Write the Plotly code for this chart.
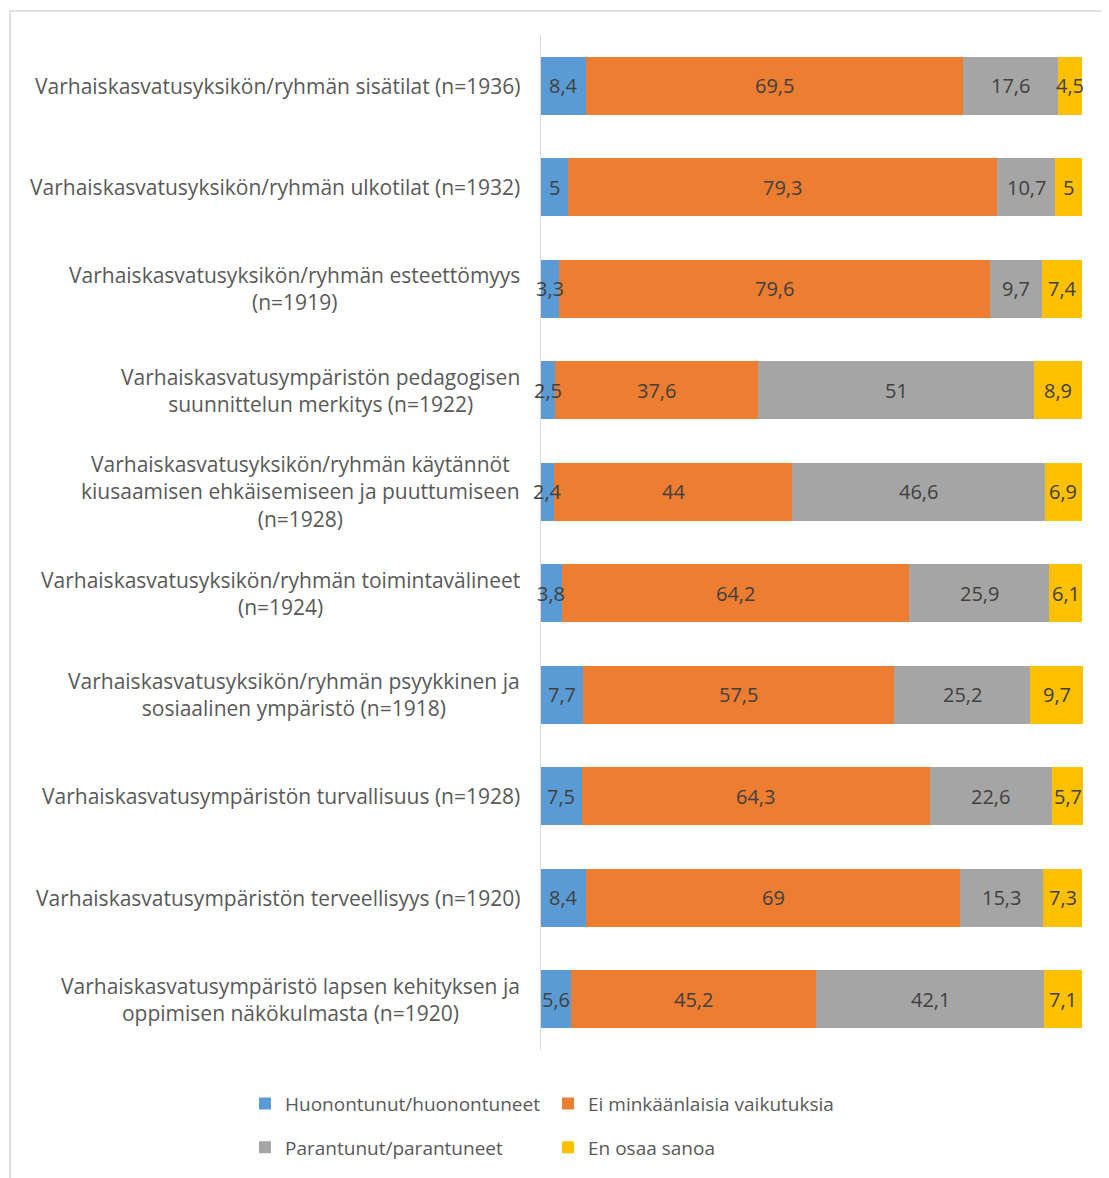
import plotly.graph_objects as go

categories = [
    "Varhaiskasvatusyksikön/ryhmän sisätilat (n=1936)",
    "Varhaiskasvatusyksikön/ryhmän ulkotilat (n=1932)",
    "Varhaiskasvatusyksikön/ryhmän esteettömyys<br>(n=1919)",
    "Varhaiskasvatusympäristön pedagogisen<br>suunnittelun merkitys (n=1922)",
    "Varhaiskasvatusyksikön/ryhmän käytännöt<br>kiusaamisen ehkäisemiseen ja puuttumiseen<br>(n=1928)",
    "Varhaiskasvatusyksikön/ryhmän toimintavälineet<br>(n=1924)",
    "Varhaiskasvatusyksikön/ryhmän psyykkinen ja<br>sosiaalinen ympäristö (n=1918)",
    "Varhaiskasvatusympäristön turvallisuus (n=1928)",
    "Varhaiskasvatusympäristön terveellisyys (n=1920)",
    "Varhaiskasvatusympäristö lapsen kehityksen ja<br>oppimisen näkökulmasta (n=1920)",
]

huonontunut = [8.4, 5, 3.3, 2.5, 2.4, 3.8, 7.7, 7.5, 8.4, 5.6]
ei_vaikutuksia = [69.5, 79.3, 79.6, 37.6, 44, 64.2, 57.5, 64.3, 69, 45.2]
parantunut = [17.6, 10.7, 9.7, 51, 46.6, 25.9, 25.2, 22.6, 15.3, 42.1]
en_osaa = [4.5, 5, 7.4, 8.9, 6.9, 6.1, 9.7, 5.7, 7.3, 7.1]

series_names = ["Huonontunut/huonontuneet", "Ei minkäänlaisia vaikutuksia",
                "Parantunut/parantuneet", "En osaa sanoa"]
series_values = [huonontunut, ei_vaikutuksia, parantunut, en_osaa]
colors = ["#5B9BD5", "#ED7D31", "#A5A5A5", "#FFC000"]
legends = ["legend", "legend", "legend2", "legend2"]

FONT = "Open Sans"
LABEL_COLOR = "#595959"
VALUE_COLOR = "#404040"

keys = [f"c{i}" for i in range(len(categories))]

fig = go.Figure()
for name, vals, col, lg in zip(series_names, series_values, colors, legends):
    fig.add_trace(go.Bar(
        y=keys, x=vals, name=name, orientation="h",
        marker=dict(color=col, line=dict(width=0)),
        textposition="none", cliponaxis=False,
        legend=lg, hoverinfo="skip",
    ))

annotations = []
# category labels
for key, label in zip(keys, categories):
    annotations.append(dict(
        x=0, xref="paper", y=key, yref="y",
        text=label, showarrow=False, xanchor="right", yanchor="middle",
        align="center", xshift=-19,
        font=dict(family=FONT, size=21, color=LABEL_COLOR),
    ))

# value labels, centred in each stacked segment
cum = [0.0] * len(keys)
for vals in series_values:
    for i, (key, v) in enumerate(zip(keys, vals)):
        annotations.append(dict(
            x=cum[i] + v / 2, xref="x", y=key, yref="y",
            text=f"{v:g}".replace(".", ","), showarrow=False,
            xanchor="center", yanchor="middle",
            font=dict(family=FONT, size=20, color=VALUE_COLOR),
        ))
        cum[i] += v

# page coordinates of plot area (page has 8px body margin)
OFF = 8
L, R, T, B = 541, 1083, 35, 1055
pw, ph = R - L, B - T
def px(x):
    return (x - L) / pw
def py(y):
    return (B - y) / ph

shapes = [dict(type="path", xref="paper", yref="paper",
               path=f"M {px(10)} {py(1190)} L {px(10)} {py(11)} L {px(1120)} {py(11)}",
               line=dict(color="#D6D6D6", width=1.5))]

W, H = 1109 - OFF, 1178 - OFF
fig.update_layout(
    width=W, height=H,
    margin=dict(l=L - OFF, r=W - (R - OFF), t=T - OFF, b=H - (B - OFF), pad=0),
    barmode="stack", bargap=0.43,
    paper_bgcolor="white", plot_bgcolor="white",
    font=dict(family=FONT, color=LABEL_COLOR),
    xaxis=dict(range=[0, 100.1], visible=False, fixedrange=True),
    yaxis=dict(categoryorder="array", categoryarray=keys, autorange="reversed",
               showticklabels=False, ticks="", showgrid=False,
               showline=True, linecolor="#D9D9D9", linewidth=1, zeroline=False),
    annotations=annotations,
    shapes=shapes,
    legend=dict(orientation="h", x=px(245), xanchor="left", y=py(1109), yanchor="middle",
                entrywidth=258, entrywidthmode="pixels", itemwidth=30,
                font=dict(family=FONT, size=19, color=LABEL_COLOR), traceorder="normal"),
    legend2=dict(orientation="h", x=px(245), xanchor="left", y=py(1153), yanchor="middle",
                 entrywidth=258, entrywidthmode="pixels", itemwidth=30,
                 font=dict(family=FONT, size=19, color=LABEL_COLOR), traceorder="normal"),
    showlegend=True,
)

fig.write_html("out.html")
